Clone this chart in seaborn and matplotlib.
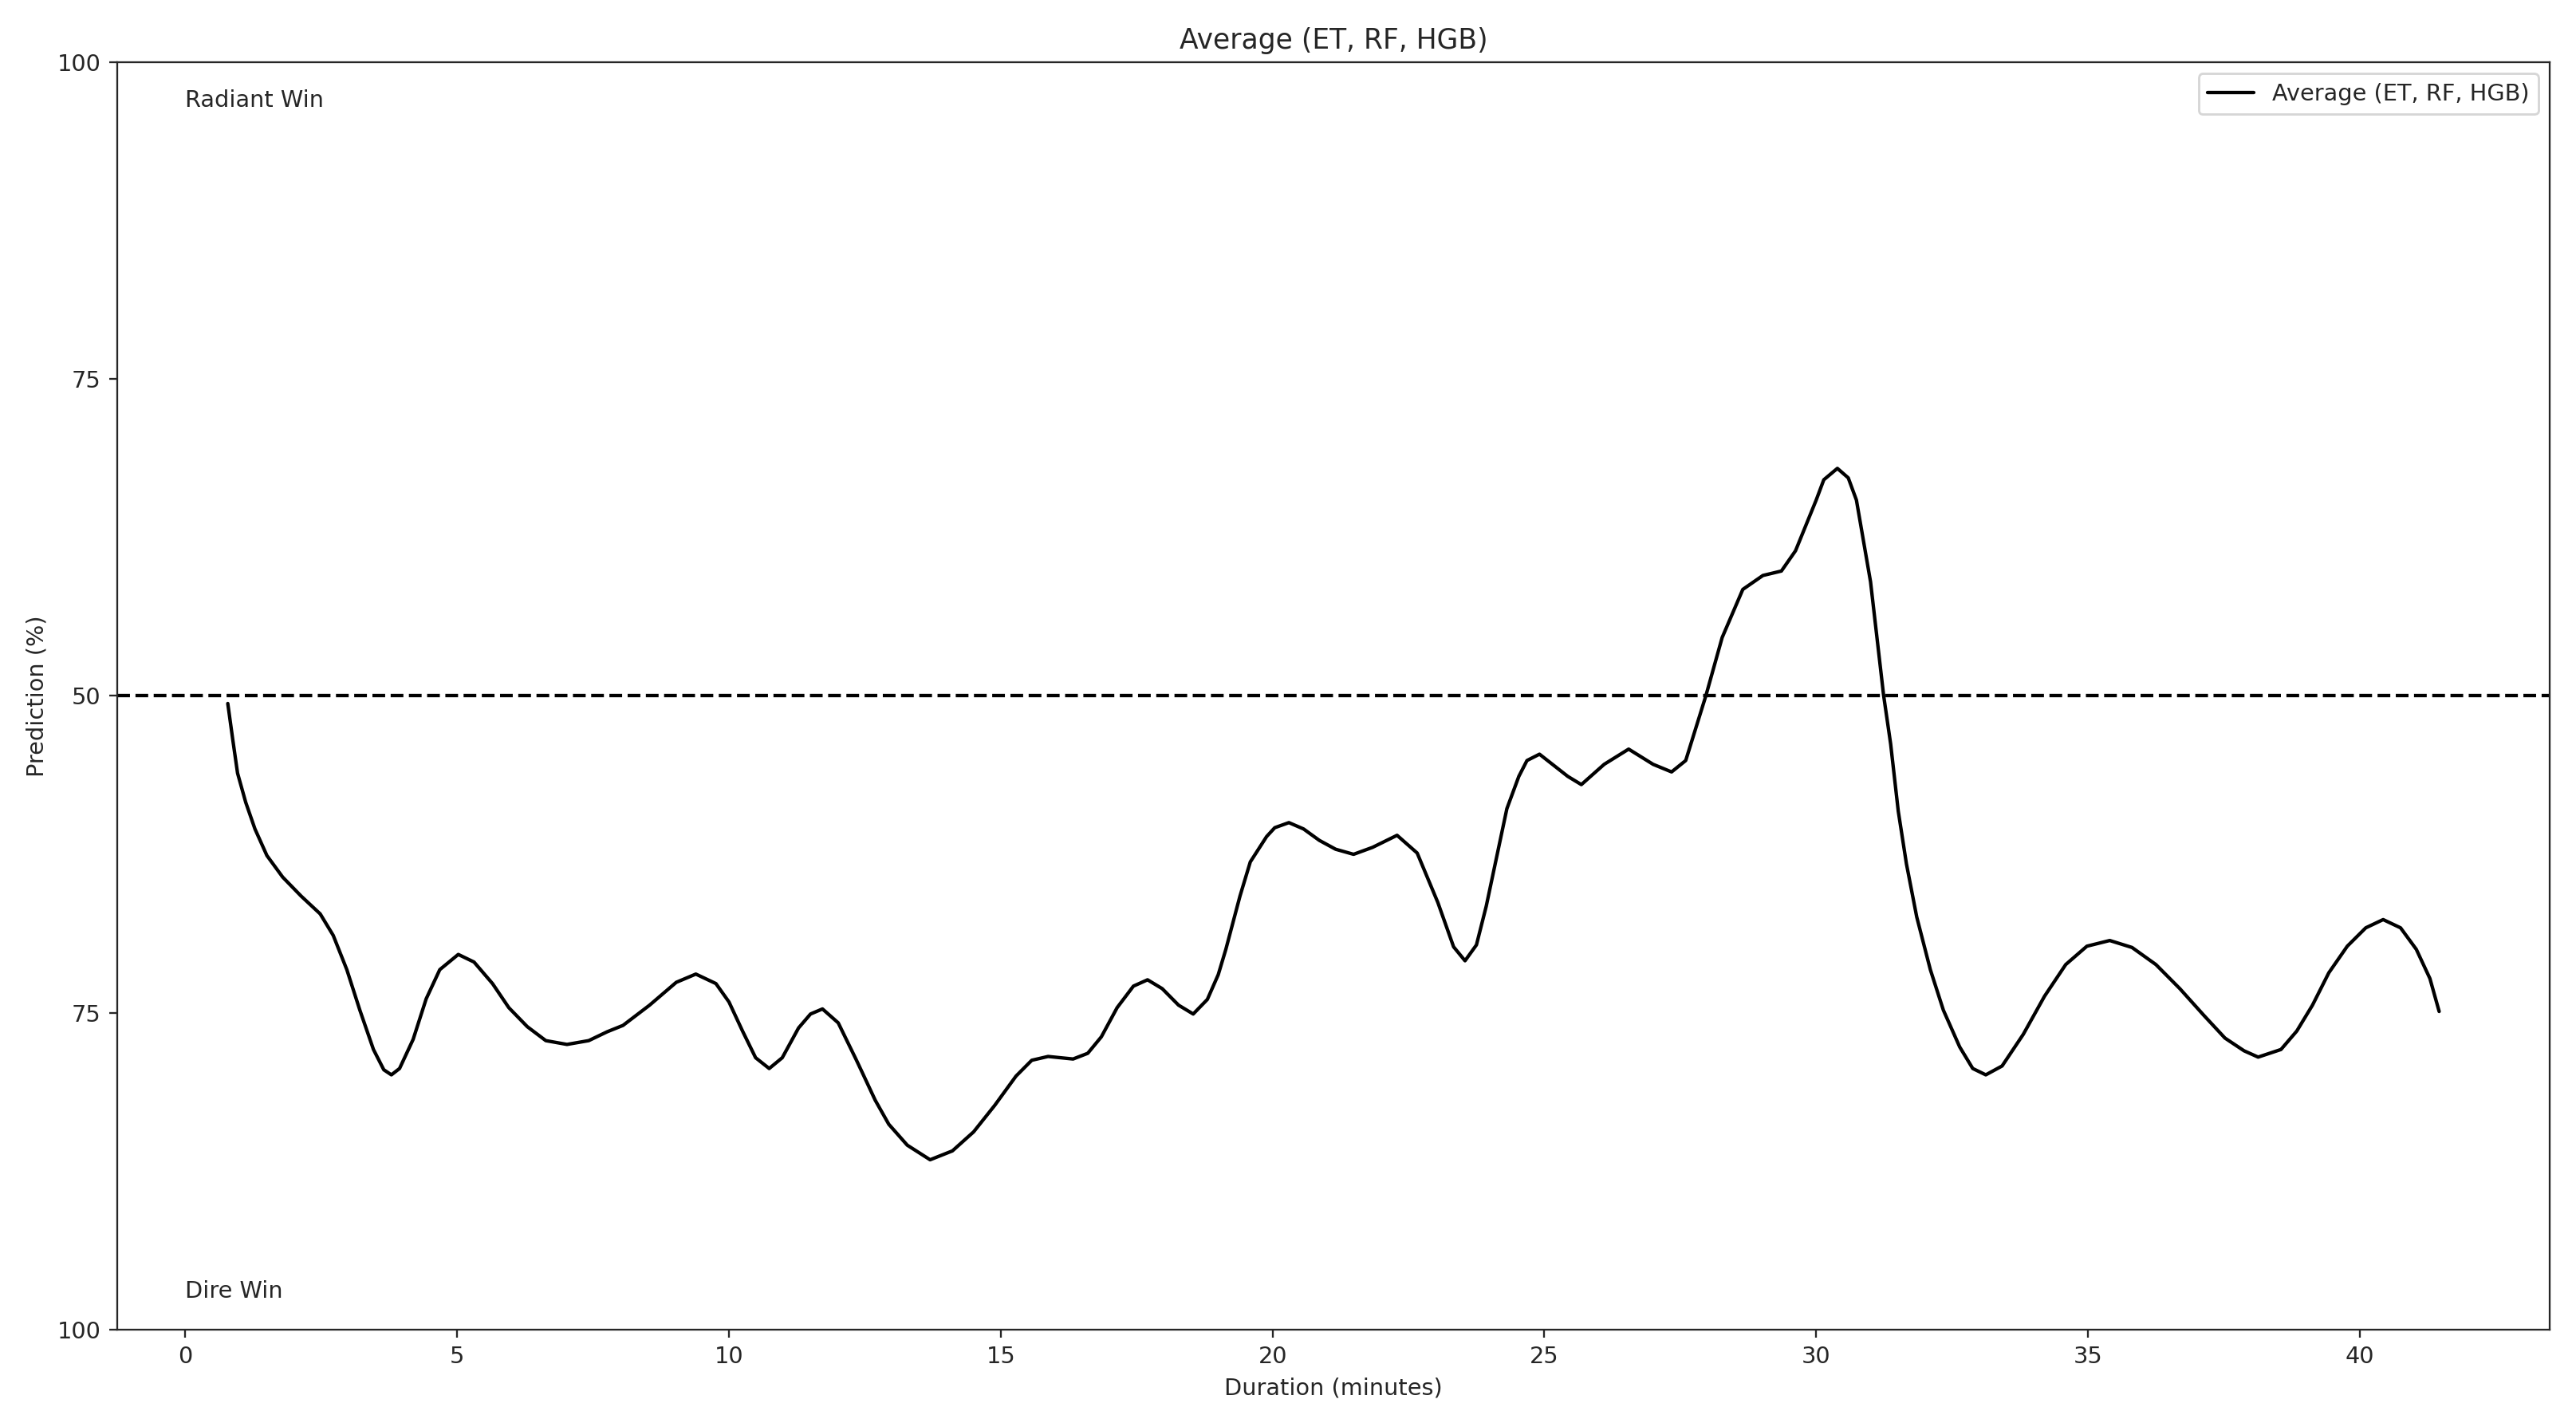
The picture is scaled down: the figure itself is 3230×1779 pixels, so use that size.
import pandas as pd
import matplotlib
matplotlib.use("Agg")
import matplotlib.pyplot as plt
import seaborn as sns

# prediction curve (minutes, radiant win %)
minutes = [0.78, 0.87, 0.96, 1.11, 1.28, 1.50, 1.79, 2.13, 2.48, 2.72, 2.97, 3.21, 3.46, 3.65,
           3.79, 3.94, 4.19, 4.43, 4.68, 5.02, 5.31, 5.65, 5.95, 6.29, 6.63, 7.02, 7.42, 7.76,
           8.05, 8.54, 9.03, 9.39, 9.76, 10.00, 10.25, 10.49, 10.74, 10.98, 11.28, 11.50, 11.72,
           12.01, 12.34, 12.45, 12.69, 12.94, 13.28, 13.70, 14.11, 14.50, 14.89, 15.28, 15.57,
           15.87, 16.33, 16.60, 16.85, 17.14, 17.44, 17.70, 17.97, 18.27, 18.54, 18.80, 19.00,
           19.14, 19.22, 19.40, 19.59, 19.89, 20.04, 20.30, 20.57, 20.86, 21.16, 21.49, 21.84,
           22.29, 22.66, 23.04, 23.33, 23.54, 23.75, 23.93, 24.31, 24.53, 24.68, 24.91, 25.43,
           25.68, 26.10, 26.55, 27.00, 27.34, 27.60, 27.97, 28.27, 28.65, 29.02, 29.36, 29.62,
           30.00, 30.14, 30.39, 30.59, 30.74, 31.00, 31.24, 31.37, 31.51, 31.66, 31.85, 32.10,
           32.34, 32.64, 32.88, 33.12, 33.42, 33.81, 34.20, 34.59, 34.98, 35.40, 35.81, 36.25,
           36.69, 37.13, 37.52, 37.87, 38.13, 38.55, 38.84, 39.13, 39.43, 39.77, 40.11, 40.43,
           40.75, 41.04, 41.29, 41.46]
prediction = [49.4, 46.6, 43.9, 41.6, 39.5, 37.4, 35.7, 34.2, 32.8, 31.1, 28.4, 25.2, 22.1, 20.5,
              20.1, 20.6, 22.9, 26.1, 28.4, 29.6, 29.0, 27.3, 25.4, 23.9, 22.8, 22.5, 22.8, 23.5,
              24.0, 25.6, 27.4, 28.05, 27.3, 25.85, 23.55, 21.45, 20.6, 21.45, 23.8, 24.9, 25.3,
              24.2, 21.3, 20.3, 18.1, 16.2, 14.55, 13.4, 14.1, 15.6, 17.7, 20.0, 21.25,
              21.55, 21.35, 21.8, 23.1, 25.4, 27.1, 27.6, 26.9, 25.6, 24.9, 26.05, 28.0,
              30.0, 31.3, 34.2, 36.9, 38.9, 39.6, 40.0, 39.5, 38.6, 37.9, 37.5, 38.05,
              39.0, 37.6, 33.7, 30.2, 29.1, 30.35, 33.4, 41.1, 43.65, 44.9, 45.4, 43.65,
              43.0, 44.6, 45.8, 44.6, 44.0, 44.9, 50.0, 54.6, 58.4, 59.5, 59.85, 61.45,
              65.45, 67.05, 67.95, 67.2, 65.45, 59.0, 50.05, 46.2, 40.9, 36.75, 32.55, 28.4,
              25.2, 22.3, 20.6, 20.1, 20.8, 23.3, 26.3, 28.8, 30.25, 30.7, 30.15, 28.8,
              26.9, 24.8, 23.0, 22.0, 21.5, 22.1, 23.55, 25.6, 28.15, 30.25, 31.7, 32.35,
              31.7, 30.0, 27.7, 25.1]

ytick_values = [0, 25, 50, 75, 100]
ytick_labels = ["100", "75", "50", "75", "100"]
series_name = "Average (ET, RF, HGB)"

df = pd.DataFrame({"Duration": minutes, "Prediction": prediction})

sns.set_style("ticks")
plt.rcParams["font.family"] = ["DejaVu Sans"]
plt.rcParams["font.size"] = 10

fig, ax = plt.subplots(figsize=(3230 / 207, 1779 / 207), dpi=207)
fig.subplots_adjust(left=0.0455, right=0.9898, top=0.9562, bottom=0.063)

sns.lineplot(data=df, x="Duration", y="Prediction", color="black", linewidth=1.5,
             label=series_name, ax=ax)
ax.axhline(50, color="black", linestyle="--", linewidth=1.5)

ax.set_ylim(0, 100)
ax.set_yticks(ytick_values)
ax.set_yticklabels(ytick_labels)
ax.tick_params(labelsize=10)

# side labels
ax.text(0, 97, "Radiant Win", va="center", fontsize=10)
ax.text(0, 3, "Dire Win", va="center", fontsize=10)

ax.set_xlabel("Duration (minutes)", fontsize=10)
ax.set_ylabel("Prediction (%)", fontsize=10)
ax.set_title(series_name, fontsize=12)
ax.legend(loc="upper right", fontsize=10)

fig.savefig("out.png", dpi=207)
